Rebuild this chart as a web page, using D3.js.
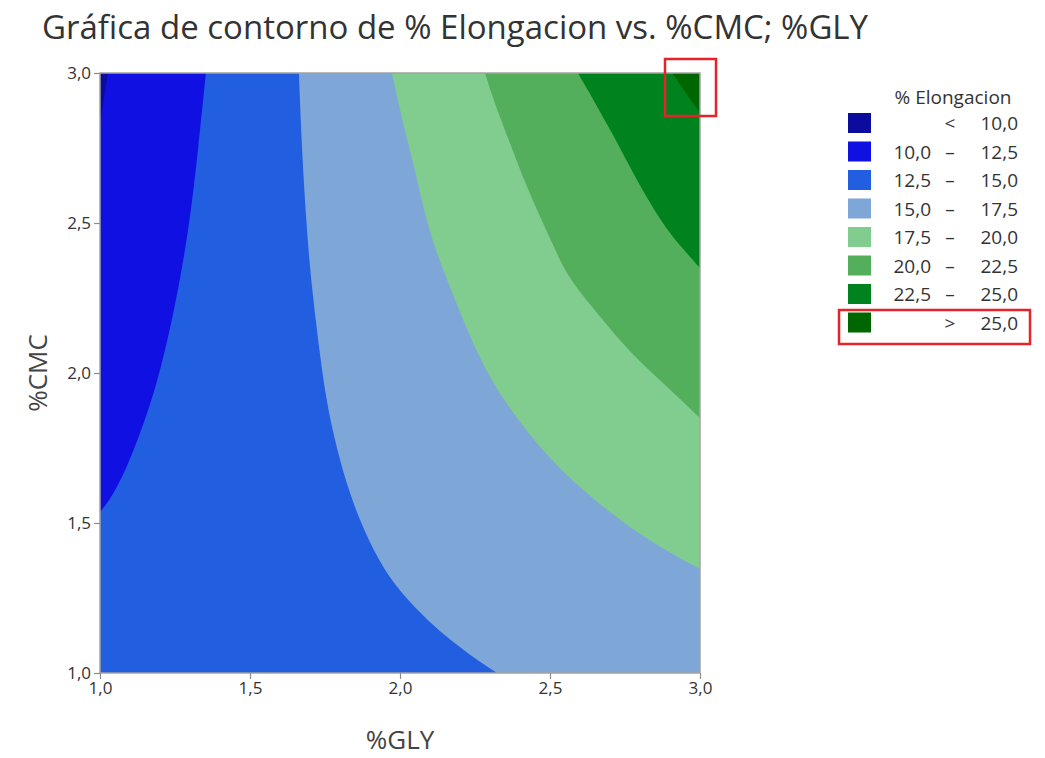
<!DOCTYPE html>
<html>
<head>
<meta charset="utf-8">
<script src="https://cdn.jsdelivr.net/npm/d3@7"></script>
<style>
body { margin: 0; background: #fff; }
svg { font-family: "Open Sans", "Noto Sans", sans-serif; }
</style>
</head>
<body>
<div id="chart"></div>
<script>
"use strict"

// contour levels and the colour of each band (lowest band first)
const levels = [10, 12.5, 15, 17.5, 20, 22.5, 25];
const bandColors = ["#0b0b9e", "#1010e2", "#215ee0", "#7ea7d8", "#81cd8f", "#53af5b", "#00821f", "#006600"];
const legendLabels = [
  ["", "<", "10,0"],
  ["10,0", "–", "12,5"],
  ["12,5", "–", "15,0"],
  ["15,0", "–", "17,5"],
  ["17,5", "–", "20,0"],
  ["20,0", "–", "22,5"],
  ["22,5", "–", "25,0"],
  ["", ">", "25,0"]
];
const xTicks = [1.0, 1.5, 2.0, 2.5, 3.0];
const yTicks = [1.0, 1.5, 2.0, 2.5, 3.0];

// contour lines as [%GLY, %CMC], each one ends on the top edge
const line10 = [[1.0, 2.833], [1.013, 2.917], [1.027, 3.0]];
const line12_5 = [[1.0, 1.537], [1.033, 1.577], [1.073, 1.65], [1.11, 1.737], [1.15, 1.843],
  [1.193, 1.977], [1.233, 2.143], [1.267, 2.31], [1.30, 2.51], [1.327, 2.743], [1.353, 3.0]];
const line15 = [[2.323, 1.0], [2.233, 1.06], [2.133, 1.137], [2.05, 1.217], [1.967, 1.31],
  [1.893, 1.443], [1.833, 1.593], [1.79, 1.743], [1.753, 1.91], [1.727, 2.11], [1.703, 2.31],
  [1.687, 2.51], [1.673, 2.743], [1.663, 3.0]];
const line17_5 = [[3.0, 1.347], [2.823, 1.443], [2.657, 1.567], [2.51, 1.70], [2.40, 1.833],
  [2.30, 1.977], [2.223, 2.143], [2.157, 2.31], [2.093, 2.477], [2.043, 2.71], [2.007, 2.843], [1.973, 3.0]];
const line20 = [[3.0, 1.85], [2.877, 1.967], [2.767, 2.067], [2.657, 2.20], [2.61, 2.257],
  [2.553, 2.333], [2.507, 2.433], [2.457, 2.543], [2.41, 2.65], [2.367, 2.767], [2.323, 2.877], [2.283, 3.0]];
const line22_5 = [[3.0, 2.35], [2.94, 2.417], [2.883, 2.487], [2.833, 2.567], [2.79, 2.643],
  [2.747, 2.723], [2.707, 2.80], [2.667, 2.87], [2.63, 2.937], [2.593, 3.0]];
const line25 = [[3.0, 2.867], [2.953, 2.933], [2.907, 3.0]];
const contourLines = [line10, line12_5, line15, line17_5, line20, line22_5, line25];

let width = 1045;
let height = 758;

let svg = d3.select("#chart")
  .append("svg")
  .attr("width", width)
  .attr("height", height);

let x = d3.scaleLinear().domain([1, 3]).range([100, 700]);
let y = d3.scaleLinear().domain([1, 3]).range([673, 73]);

let fmt = d => d3.format(".1f")(d).replace(".", ",");

svg.append("clipPath")
  .attr("id", "plotclip")
  .append("rect")
  .attr("x", x(1)).attr("y", y(3))
  .attr("width", x(3) - x(1))
  .attr("height", y(1) - y(3));

let plot = svg.append("g").attr("clip-path", "url(#plotclip)");

// lowest band fills the whole area
plot.append("rect")
  .attr("x", x(1)).attr("y", y(3))
  .attr("width", x(3) - x(1))
  .attr("height", y(1) - y(3))
  .attr("fill", bandColors[0]);

// position of a border point going clockwise from the top left corner
function perim(p) {
  let gx = p[0], cy = p[1];
  if (cy >= 3 - 1e-6) return gx - 1;
  if (gx >= 3 - 1e-6) return 2 + (3 - cy);
  if (cy <= 1 + 1e-6) return 4 + (3 - gx);
  return 6 + (cy - 1);
}
const corners = [[3, 3], [3, 1], [1, 1], [1, 3]];

let curve = d3.line()
  .x(d => x(d[0]))
  .y(d => y(d[1]))
  .curve(d3.curveBasis);

function regionPath(pts) {
  let tEnd = perim(pts[pts.length - 1]);
  let tStart = perim(pts[0]);
  if (tStart <= tEnd) tStart += 8;
  let extra = "";
  for (let t = 2; t < 16; t += 2) {
    if (t > tEnd && t < tStart) {
      let c = corners[(t / 2 - 1) % 4];
      extra += "L" + x(c[0]) + "," + y(c[1]);
    }
  }
  return curve(pts) + extra + "Z";
}

plot.selectAll(".band")
  .data(contourLines)
  .join("path")
  .attr("class", "band")
  .attr("d", d => regionPath(d))
  .attr("fill", (d, i) => bandColors[i + 1]);

// frame
svg.append("rect")
  .attr("x", x(1)).attr("y", y(3))
  .attr("width", x(3) - x(1))
  .attr("height", y(1) - y(3))
  .attr("fill", "none")
  .attr("stroke", "#a3a3a3")
  .attr("stroke-width", 1.5);

let xAxis = svg.append("g")
  .attr("transform", "translate(0," + y(1) + ")")
  .call(d3.axisBottom(x).tickValues(xTicks).tickFormat(fmt).tickSize(6).tickSizeOuter(0));

let yAxis = svg.append("g")
  .attr("transform", "translate(" + x(1) + ",0)")
  .call(d3.axisLeft(y).tickValues(yTicks).tickFormat(fmt).tickSize(6).tickSizeOuter(0));

[xAxis, yAxis].forEach(a => {
  a.select(".domain").remove();
  a.selectAll(".tick line").attr("stroke", "#8c8c8c").attr("stroke-width", 1.2);
  a.selectAll(".tick text")
    .attr("fill", "#333")
    .style("font-size", "17px")
    .style("font-family", "'Open Sans', sans-serif");
});

// titles
svg.append("text")
  .attr("x", 42)
  .attr("y", 39)
  .attr("fill", "#333")
  .style("font-size", "33px")
  .text("Gráfica de contorno de % Elongacion vs. %CMC; %GLY");

svg.append("text")
  .attr("x", 400)
  .attr("y", 749)
  .attr("text-anchor", "middle")
  .attr("fill", "#444")
  .style("font-size", "26px")
  .text("%GLY");

svg.append("text")
  .attr("transform", "translate(47,373) rotate(-90)")
  .attr("text-anchor", "middle")
  .attr("fill", "#444")
  .style("font-size", "26px")
  .text("%CMC");

// legend
let legend = svg.append("g");

legend.append("text")
  .attr("x", 953)
  .attr("y", 104)
  .attr("text-anchor", "middle")
  .attr("fill", "#333")
  .style("font-size", "19px")
  .text("% Elongacion");

let rows = legend.selectAll(".row")
  .data(legendLabels)
  .join("g")
  .attr("class", "row")
  .attr("transform", (d, i) => "translate(0," + (123 + i * 28.5) + ")");

rows.append("rect")
  .attr("x", 848)
  .attr("y", -10)
  .attr("width", 23)
  .attr("height", 20)
  .attr("fill", (d, i) => bandColors[i]);

rows.append("text")
  .attr("x", 931)
  .attr("y", 7)
  .attr("text-anchor", "end")
  .attr("fill", "#333")
  .style("font-size", "19px")
  .text(d => d[0]);

rows.append("text")
  .attr("x", 950)
  .attr("y", 7)
  .attr("text-anchor", "middle")
  .attr("fill", "#333")
  .style("font-size", "19px")
  .text(d => d[1]);

rows.append("text")
  .attr("x", 1018)
  .attr("y", 7)
  .attr("text-anchor", "end")
  .attr("fill", "#333")
  .style("font-size", "19px")
  .text(d => d[2]);

// red highlight boxes
svg.append("rect")
  .attr("x", 665).attr("y", 59)
  .attr("width", 51).attr("height", 57)
  .attr("fill", "none")
  .attr("stroke", "#e52329")
  .attr("stroke-width", 2.5);

svg.append("rect")
  .attr("x", 839).attr("y", 310)
  .attr("width", 191).attr("height", 34)
  .attr("fill", "none")
  .attr("stroke", "#e52329")
  .attr("stroke-width", 2.5);
</script>
</body>
</html>
